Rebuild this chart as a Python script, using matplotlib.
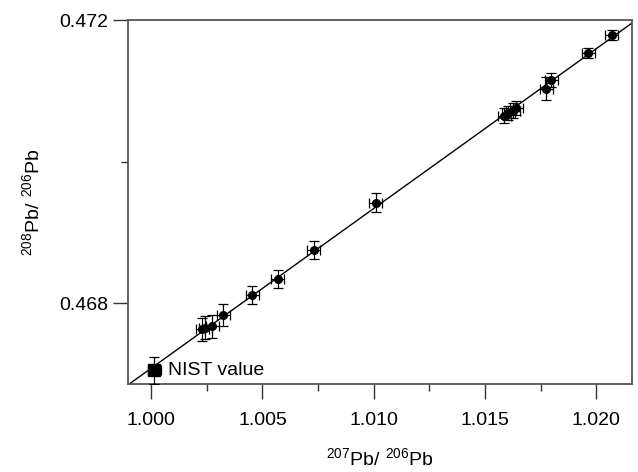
import numpy as np
import matplotlib
matplotlib.use("Agg")
import matplotlib.pyplot as plt

plt.rcParams['font.family'] = ['Liberation Sans', 'DejaVu Sans']
plt.rcParams['mathtext.fontset'] = 'custom'
plt.rcParams['mathtext.rm'] = 'Liberation Sans'

# 207Pb/206Pb vs 208Pb/206Pb measurements
x_vals = [1.0023, 1.00243, 1.00275, 1.00324, 1.00455, 1.00568, 1.0073, 1.01009,
          1.01586, 1.01604, 1.01626, 1.0164, 1.01775, 1.01797, 1.01964, 1.02068]
y_vals = [0.46763, 0.46765, 0.46767, 0.46783, 0.46811, 0.46834, 0.46875, 0.46942,
          0.47065, 0.47069, 0.47072, 0.47076, 0.47103, 0.47115, 0.47153, 0.47179]
x_err = [0.0003, 0.0003, 0.0003, 0.0003, 0.0003, 0.0003, 0.0003, 0.0003,
         0.0003, 0.0003, 0.0003, 0.0003, 0.0003, 0.0003, 0.0003, 0.0003]
y_err = [0.00016, 0.00016, 0.00016, 0.00016, 0.00013, 0.00013, 0.00013, 0.00013,
         0.0001, 0.0001, 0.0001, 0.0001, 0.00016, 0.0001, 0.00007, 0.00007]

# NIST reference value
nist_x = 1.00014
nist_y = 0.46705
nist_xerr = 0.0003
nist_yerr = 0.00019

x_ticks = [1.000, 1.005, 1.010, 1.015, 1.020]
x_minor = [1.0025, 1.0075, 1.0125, 1.0175]
x_labels = ['1.000', '1.005', '1.010', '1.015', '1.020']
y_ticks = [0.468, 0.472]
y_labels = ['0.468', '0.472']

fig = plt.figure(figsize=(6.38, 4.72), dpi=100)
ax = fig.add_axes([0.2006, 0.1864, 0.79, 0.7712])

# regression line through all points
all_x = np.array(x_vals + [nist_x])
all_y = np.array(y_vals + [nist_y])
slope, intercept = np.polyfit(all_x, all_y, 1)
xl = np.array([0.9985, 1.0225])
ax.plot(xl, slope * xl + intercept, color='black', lw=1.0, zorder=1)

ax.errorbar(x_vals, y_vals, xerr=x_err, yerr=y_err, fmt='o', color='black',
            ms=5.5, elinewidth=0.9, capsize=3.5, capthick=0.9, zorder=3)
ax.errorbar([nist_x], [nist_y], xerr=[nist_xerr], yerr=[nist_yerr], fmt='s',
            color='black', ms=8, elinewidth=0.9, capsize=3.5, capthick=0.9, zorder=3)
ax.text(nist_x + 0.00062, nist_y, 'NIST value', fontsize=14, va='center', ha='left')

ax.set_xlim(0.99896, 1.0216)
ax.set_ylim(0.466855, 0.472)
ax.set_xticks(x_ticks)
ax.set_xticks(x_minor, minor=True)
ax.set_xticklabels(x_labels)
ax.set_yticks(y_ticks)
ax.set_yticks([0.470], minor=True)
ax.set_yticklabels(y_labels)

ax.tick_params(which='both', direction='out', labelsize=14, color='#333333', width=1.0)
ax.tick_params(which='major', length=11)
ax.tick_params(which='minor', length=5)
ax.tick_params(axis='x', pad=9)
ax.tick_params(axis='y', pad=3)
for sp in ax.spines.values():
    sp.set_color('#555555')
    sp.set_linewidth(1.3)

ax.set_xlabel(r'$\mathregular{^{207}Pb/\ ^{206}Pb}$', fontsize=14, labelpad=13)
ax.set_ylabel(r'$\mathregular{^{208}Pb/\ ^{206}Pb}$', fontsize=14, labelpad=12)

fig.savefig('out.png', dpi=100)
